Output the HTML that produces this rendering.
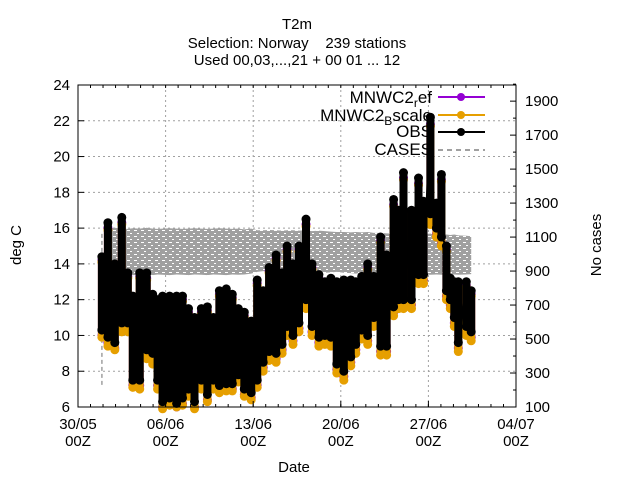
<!DOCTYPE html>
<html><head><meta charset="utf-8"><style>
body{margin:0;background:#fff}
svg{font-family:"Liberation Sans",sans-serif;display:block}
</style></head><body>
<svg id="chart" width="640" height="480" viewBox="0 0 640 480" xmlns="http://www.w3.org/2000/svg">
<defs>
<pattern id="casesPat" width="7" height="6" patternUnits="userSpaceOnUse">
<rect width="7" height="6" fill="#a0a0a0"/>
<rect x="1" y="2" width="3" height="1" fill="#fff"/>
<rect x="4" y="5" width="2" height="1" fill="#fff"/>
</pattern>
</defs>
<g font-size="15" text-anchor="middle" fill="#000">
<text x="297" y="29">T2m</text>
<text x="297" y="48">Selection: Norway&#160;&#160;&#160;&#160;239 stations</text>
<text x="297" y="65">Used 00,03,...,21 + 00 01 ... 12</text>
</g>
<g id="grid"></g>
<g id="cases"></g>
<g id="ref"></g>
<g id="bs"></g>
<g id="obs"></g>
<rect x="78" y="85" width="438" height="322" fill="none" stroke="#000" stroke-width="1"/>
<g id="axes" font-size="15" fill="#000"></g>
<text x="21" y="245" font-size="15" text-anchor="middle" transform="rotate(-90 21 245)">deg C</text>
<text x="601" y="245" font-size="15" text-anchor="middle" transform="rotate(-90 601 245)">No cases</text>
<text x="294" y="472" font-size="15" text-anchor="middle">Date</text>
<g font-size="17" text-anchor="end">
<g><text x="432" y="103">MNWC2<tspan font-size="12" dy="4">r</tspan><tspan dy="-4">ef</tspan></text>
<line x1="438" y1="97" x2="485" y2="97" stroke="#9400d3" stroke-width="2"/><circle cx="461" cy="97" r="4" fill="#9400d3"/></g>
<g><text x="432" y="121">MNWC2<tspan font-size="12" dy="4">B</tspan><tspan dy="-4">scale</tspan></text>
<line x1="438" y1="115" x2="485" y2="115" stroke="#e69f00" stroke-width="2"/><circle cx="461" cy="115" r="4" fill="#e69f00"/></g>
<g><text x="432" y="137">OBS</text>
<line x1="438" y1="132" x2="485" y2="132" stroke="#000" stroke-width="2"/><circle cx="461" cy="132" r="4" fill="#000"/></g>
<g><text x="432" y="155">CASES</text>
<line x1="438" y1="150" x2="485" y2="150" stroke="#a0a0a0" stroke-width="2" stroke-dasharray="5,4"/></g>
</g>
</svg>
<script>
const days=[1.91,2.39,2.94,3.50,3.98,4.38,4.93,5.49,5.97,6.36,6.76,7.32,7.88,8.35,8.83,9.31,9.86,10.34,10.82,11.30,11.85,12.33,12.81,13.29,13.84,14.32,14.80,15.27,15.83,16.31,16.71,17.18,17.66,18.22,18.70,19.25,19.73,20.21,20.68,21.24,21.80,22.20,22.67,23.15,23.63,24.18,24.66,25.22,25.62,26.01,26.65,27.21,27.61,28.16,28.64,29.04,29.44,29.75,30.07,30.39,31.03,31.42];
const obsHi=[14.4,16.3,14.0,16.6,13.5,12.2,13.5,13.5,12.3,12.0,12.2,12.2,12.2,12.2,11.5,11.0,11.5,11.6,11.0,12.5,12.6,12.3,11.5,11.3,10.8,13.1,12.5,13.8,14.5,13.5,15.0,14.0,15.0,16.5,14.0,13.4,13.0,13.2,13.0,13.1,13.1,13.0,13.3,14.0,13.3,15.5,14.5,17.6,17.0,19.1,17.0,18.8,17.5,22.2,17.4,19.0,15.0,13.2,13.0,13.0,13.0,12.5];
const obsLo=[10.3,9.9,9.6,10.7,10.7,7.5,7.5,9.2,9.0,7.5,6.3,6.5,6.2,6.5,7.0,6.3,7.5,6.7,7.5,7.2,7.3,7.3,7.8,7.0,6.8,7.5,8.5,9.1,9.0,9.5,10.5,10.0,10.7,12.0,10.5,9.9,10.0,9.9,8.4,8.0,8.8,9.5,10.3,10.0,11.0,9.4,9.4,11.6,12.0,12.0,12.0,13.4,13.4,16.8,16.0,15.5,12.5,12.0,11.0,9.6,10.5,10.2];
const refHi=[14.2,16.0,13.8,16.3,13.3,12.0,13.3,13.2,12.1,11.8,12.0,12.0,12.0,12.0,11.3,10.8,11.3,11.4,10.8,12.3,12.4,12.1,11.3,11.1,10.6,12.9,12.3,13.6,14.3,13.3,14.8,13.8,14.8,16.2,13.8,13.2,12.8,13.0,12.8,12.9,12.9,12.8,13.1,13.8,13.1,15.3,14.3,17.3,16.8,18.8,16.8,18.5,17.3,21.8,17.2,18.7,14.8,13.0,12.8,12.8,12.8,12.3];
const refLo=[10.0,9.6,9.3,10.4,10.4,7.2,7.2,8.9,8.7,7.2,6.0,6.2,6.0,6.2,6.7,6.0,7.2,6.4,7.2,6.9,7.0,7.0,7.5,6.7,6.5,7.2,8.2,8.8,8.7,9.2,10.2,9.7,10.4,11.7,10.2,9.6,9.7,9.6,8.1,7.7,8.5,9.2,10.0,9.7,10.7,9.1,9.1,11.3,11.7,11.7,11.7,13.1,13.1,16.5,15.7,15.2,12.2,11.7,10.7,9.3,10.2,9.9];
const bsHi=[14.1,15.9,13.7,16.2,13.2,11.9,13.2,13.1,12.0,11.7,11.9,11.9,11.9,11.9,11.2,10.7,11.2,11.3,10.7,12.2,12.3,12.0,11.2,11.0,10.5,12.8,12.2,13.5,14.2,13.2,14.7,13.7,14.7,16.1,13.7,13.1,12.7,12.9,12.7,12.8,12.8,12.7,13.0,13.7,13.0,15.2,14.2,17.2,16.7,18.7,16.7,18.4,17.2,21.7,17.1,18.6,14.7,12.9,12.7,12.7,12.7,12.2];
const bsLo=[9.9,9.4,9.2,10.2,10.2,7.1,7.0,8.7,8.4,7.0,5.9,6.1,6.0,6.1,6.6,5.9,7.0,6.3,7.0,6.8,6.9,6.9,7.4,6.6,6.4,7.1,8.0,8.6,8.5,9.0,10.0,9.5,10.2,11.5,10.0,9.4,9.5,9.4,7.9,7.5,8.3,9.0,9.8,9.5,10.5,8.9,8.9,11.1,11.5,11.5,11.5,12.9,12.9,16.2,15.5,15.0,12.0,11.5,10.5,9.1,10.0,9.7];
const casesHi=[1120,1150,1155,1150,1148,1152,1150,1155,1150,1148,1150,1152,1150,1148,1150,1152,1150,1148,1150,1152,1150,1148,1150,1145,1150,1140,1140,1142,1140,1138,1140,1140,1138,1140,1135,1138,1135,1132,1130,1130,1128,1130,1128,1130,1125,1125,1122,1120,1120,1118,1120,1120,1118,1120,1115,1118,1115,1112,1115,1110,1108,1105];
const casesLo=[230,880,880,878,880,876,880,878,876,880,878,876,880,878,876,880,878,876,880,878,876,880,878,880,885,895,900,895,892,895,890,892,895,890,892,895,890,892,895,890,888,885,890,885,882,885,880,882,880,878,880,882,880,878,880,878,880,878,880,878,880,882];
const yTicks=[6,8,10,12,14,16,18,20,22,24];
const y2Ticks=[100,300,500,700,900,1100,1300,1500,1700,1900];
const xTickDays=[0,7,14,21,28,35];
const xTickLabels=["30/05","06/06","13/06","20/06","27/06","04/07"];

const NS="http://www.w3.org/2000/svg";
const X0=78,X1=516,Y0=407,Y1=85;
const xs=d=>X0+d*(X1-X0)/35;
const ys=v=>Y0-(v-6)*(Y0-Y1)/18;
const y2s=c=>Y0-(c-100)*(Y0-Y1)/1895;
function mk(tag,attrs,parent){const e=document.createElementNS(NS,tag);for(const k in attrs)e.setAttribute(k,attrs[k]);parent.appendChild(e);return e;}
const grid=document.getElementById('grid'),axes=document.getElementById('axes');
yTicks.forEach(v=>{
  const y=ys(v);
  if(v>6&&v<24){const g=mk('line',{x1:X0,x2:X1,y1:y,y2:y,stroke:'#a0a0a0','stroke-dasharray':'2,3','stroke-width':1},grid);
  
  }
  const t=mk('line',{x1:X0,x2:X0+6,y1:y,y2:y,stroke:'#000'},axes);
  
  
  const l=mk('text',{x:X0-8,y:y+5,'text-anchor':'end'},axes);l.textContent=v;
  
  
});
for(let c=100;c<=2000;c+=100){const y=y2s(c);const t=mk('line',{x1:X1-(c%200===100?6:3),x2:X1,y1:y,y2:y,stroke:'#000'},axes);
  
  }
y2Ticks.forEach(c=>{const l=mk('text',{x:X1+9,y:y2s(c)+5},axes);l.textContent=c;
  
  });
for(let d=1;d<35;d++){const x=xs(d);mk('line',{x1:x,x2:x,y1:Y0,y2:Y0-3,stroke:'#000'},axes);mk('line',{x1:x,x2:x,y1:Y1,y2:Y1+3,stroke:'#000'},axes);}
xTickDays.forEach((d,i)=>{
  const x=xs(d);
  if(d>0&&d<35){const g=mk('line',{x1:x,x2:x,y1:Y1,y2:Y0,stroke:'#a0a0a0','stroke-dasharray':'2,3'},grid);
  
  }
  mk('line',{x1:x,x2:x,y1:Y0,y2:Y0-6,stroke:'#000'},axes);
  const l=mk('text',{x:x,y:429,'text-anchor':'middle'},axes);l.textContent=xTickLabels[i];
  
  
  const l2=mk('text',{x:x,y:446,'text-anchor':'middle'},axes);l2.textContent='00Z';
  
  
});
const cg=document.getElementById('cases');
const bandTop=[],bandBot=[];
for(let i=1;i<days.length;i++){bandTop.push(xs(days[i])+','+y2s(casesHi[i]));bandBot.unshift(xs(days[i])+','+y2s(casesLo[i]));}
const band=mk('polygon',{points:bandTop.concat(bandBot).join(' '),fill:'url(#casesPat)'},cg);


const cl=mk('polyline',{points:xs(days[0])+','+y2s(casesLo[0])+' '+xs(days[0])+','+y2s(casesHi[0])+' '+xs(days[1])+','+y2s(casesHi[1]),fill:'none',stroke:'#a0a0a0','stroke-width':1.5,'stroke-dasharray':'4,3'},cg);


function series(gid,hi,lo,color,name){
  const g=document.getElementById(gid);
  const pts=[];
  days.forEach((d,i)=>{pts.push(xs(d)+','+ys(hi[i]));pts.push(xs(d)+','+ys(lo[i]));});
  const pl=mk('polyline',{points:pts.join(' '),fill:'none',stroke:color,'stroke-width':2},g);
  
  
  days.forEach((d,i)=>{
    const col=mk('line',{x1:xs(d),x2:xs(d),y1:ys(hi[i]),y2:ys(lo[i]),stroke:color,'stroke-width':8,'stroke-linecap':'round'},g);
    
    
    [hi[i],lo[i]].forEach(v=>{
      const p=mk('circle',{cx:xs(d),cy:ys(v),r:4.5,fill:color},g);
      
      
    });
  });
}
series('ref',refHi,refLo,'#9400d3','ref');
series('bs',bsHi,bsLo,'#e69f00','bscale');
series('obs',obsHi,obsLo,'#000','obs');
</script>
</body></html>
